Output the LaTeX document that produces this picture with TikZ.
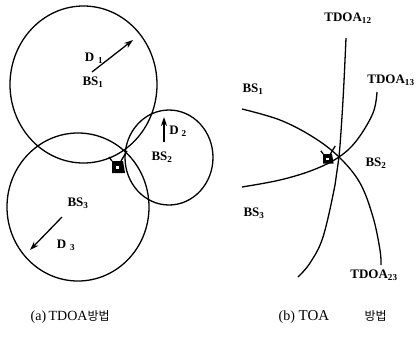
\documentclass[tikz,border=0pt]{standalone}
\usepackage{fontspec}
\setmainfont{Liberation Serif}
\newfontfamily\kr{Noto Sans CJK KR}
\usetikzlibrary{arrows.meta}
\begin{document}
\begin{tikzpicture}[x=1pt,y=-1pt,line width=1.3pt,
  lbl/.style={font=\fontsize{13}{13}\selectfont\bfseries,inner sep=0pt},
  captxt/.style={font=\fontsize{14}{14}\selectfont,inner sep=0pt,anchor=base west},
  arr/.style={-{Stealth[length=9pt,width=6pt]}},
  phone/.pic={\fill (-6,-5) -- (5,-5) -- (7,7) -- (-6,7) -- cycle;
              \fill[white] (-2,0) rectangle (1,3);
              \draw[line width=1.3pt] (3,-5) -- (9,-15);
              \draw[line width=1.3pt] (-6,-5) -- (-9,-9);}]
\useasboundingbox (0,0) rectangle (417,349);
% ---------- (a) ----------
\draw (83.5,84.5) ellipse [x radius=73.5pt, y radius=78.5pt];
\draw (78,207) ellipse [x radius=71pt, y radius=74pt];
\draw (169,157.5) ellipse [x radius=44pt, y radius=47.5pt];
\node[lbl] (bs1) at (93,82) {BS\textsubscript{1}};
\node[lbl] (bs2) at (162,157) {BS\textsubscript{2}};
\node[lbl] (bs3) at (78,203) {BS\textsubscript{3}};
\coordinate (a1s) at (92,72); \coordinate (a1e) at (133,40);
\coordinate (a2s) at (164,142); \coordinate (a2e) at (164,117);
\coordinate (a3s) at (62,217); \coordinate (a3e) at (30,250);
\draw[arr] (a1s) -- (a1e);
\draw[arr] (a2s) -- (a2e);
\draw[arr] (a3s) -- (a3e);
\node[lbl] (d1) at (94,58) {D\hspace{4pt}\textsubscript{1}};
\node[lbl] (d2) at (178,131) {D\hspace{3pt}\textsubscript{2}};
\node[lbl] (d3) at (66,245) {D\hspace{4pt}\textsubscript{3}};
\pic at (118,166) {phone};
% ---------- (b) ----------
\coordinate (m) at (339,157);
\draw plot[smooth,tension=0.6] coordinates {(346,38) (343,100) (m) (335,185) (323,237) (310,263) (298,277)};
\draw plot[smooth,tension=0.6] coordinates {(377,92) (373,113) (357,140) (m) (313,170) (280,180) (242,187)};
\draw plot[smooth,tension=0.6] coordinates {(242,109) (280,120) (313,137) (m) (360,183) (373,217) (380,250) (381,265)};
\pic[scale=0.8] at (328,158) {phone};
\node[lbl] (rbs1) at (253,89) {BS\textsubscript{1}};
\node[lbl] (rbs2) at (376,163) {BS\textsubscript{2}};
\node[lbl] (rbs3) at (254,213) {BS\textsubscript{3}};
\node[lbl] (t1) at (348,18) {TDOA\textsubscript{12}};
\node[lbl] (t2) at (391,80) {TDOA\textsubscript{13}};
\node[lbl] (t3) at (374,275) {TDOA\textsubscript{23}};
% ---------- captions ----------
\node[captxt] (ca) at (30,320) {(a)};
\node[captxt] (cat) at (48,320) {TDOA};
\node[captxt,font=\fontsize{12}{12}\selectfont\kr] (cak) at (87,320) {방법};
\node[captxt] (cb) at (278,320) {(b)};
\node[captxt,font=\fontsize{15}{15}\selectfont] (cbt) at (298,320) {TOA};
\node[captxt,font=\fontsize{12}{12}\selectfont\kr] (cbk) at (364,320) {방법};
\end{tikzpicture}
\end{document}
